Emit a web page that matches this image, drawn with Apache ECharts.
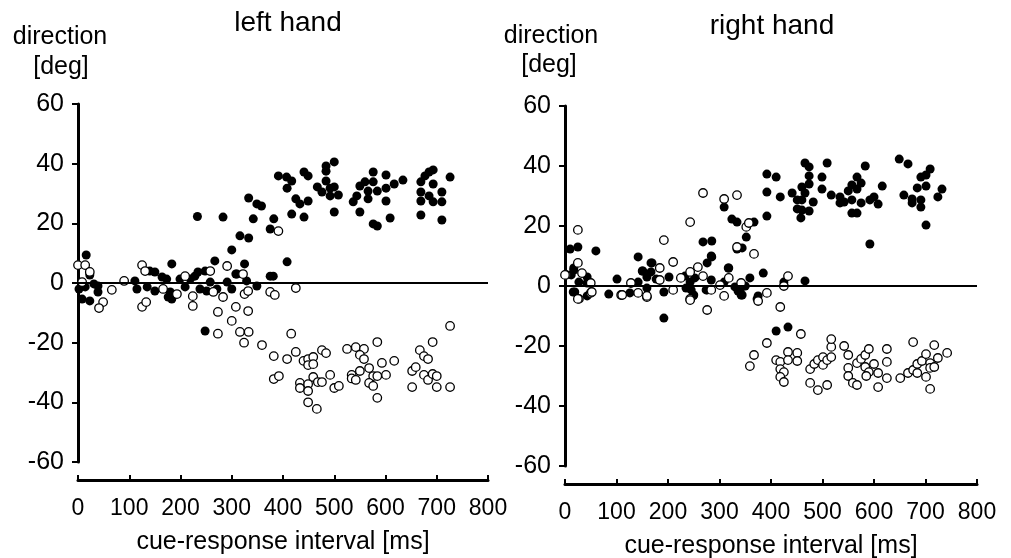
<!DOCTYPE html>
<html>
<head>
<meta charset="utf-8">
<script src="https://cdn.jsdelivr.net/npm/echarts@6/dist/echarts.min.js"></script>
<style>
  html, body { margin: 0; padding: 0; background: #fff; }
  #chart { width: 1011px; height: 558px; }
</style>
</head>
<body>
<div id="chart"></div>
<script>
// panel titles and axis texts
var panelTitles = ['left hand', 'right hand'];
var xName = 'cue-response interval [ms]';
var yName = ['direction', '[deg]'];

// left hand, filled circles [ms, deg]
var leftFilled = [
  [16,9.4],[23,2.7],[2,-2],[8,-5.4],[23,-6],[14,-1.3],[39,-1],[39,-3],[31,-0.3],
  [111,0.7],[115,-2],[135,-1.3],[140,4],[150,3.7],[150,-2.7],[164,2],[173,1.3],[176,-4.7],
  [183,-5.4],[183,6.4],[180,-3],[199,1.3],[209,-1.3],[219,1.3],[228,2.3],[234,3.7],[238,-2],
  [248,4],[251,-2.7],[258,0.3],[271,-2],[291,0.3],[300,-2],[310,3],[329,0.7],[349,-1],
  [375,2.3],[381,2.3],[248,-16.1],
  [233,22.3],[283,22.1],[267,7.4],[300,11.1],[316,15.8],[333,15.1],[325,6.4],[308,3],
  [333,28.5],[342,21.5],[349,26.5],[358,25.8],[375,18.1],[382,21.5],[408,7.1],
  [391,35.9],[407,35.5],[408,31.8],[417,34.2],[417,23.1],[425,28.2],[433,26.5],
  [441,37.2],[449,35.9],[449,27.5],[441,22.1],[467,32.2],[476,30.5],[484,39.2],[484,37.5],
  [500,40.6],[484,34.2],[492,31.8],[500,32.2],[492,29.2],[508,29.5],[500,23.8],
  [537,27.2],[544,29.2],[550,23.8],[550,32.5],[560,33.9],[566,30.8],[566,28.2],
  [576,37.2],[576,33.9],[584,30.8],[576,19.8],[584,19.1],[601,36.2],[601,31.8],[601,27.5],
  [617,33.2],[609,21.8],[634,34.5],[669,33.9],[669,30.5],[669,27.5],[669,22.8],
  [677,35.9],[685,37.2],[693,37.9],[685,29.2],[693,27.2],[693,33.2],[710,30.5],[710,27.2],
  [710,21.1],[726,35.5]
];

// left hand, open circles [ms, deg]
var leftOpen = [
  [0,6],[14,6],[23,3.7],[8,0.3],[49,-6.4],[41,-8.4],[66,-2.3],[90,0.7],[125,6],[131,4],
  [125,-8],[133,-6.4],[166,-2],[193,-3.7],[209,2.3],[224,-4.4],[224,-7.7],[258,4],[264,-3],
  [273,-9.7],[283,-4.7],[291,5.7],[300,-12.7],[308,-8],[322,3],[325,-3.7],[332,-2.7],
  [332,-9.4],[316,-16.4],[333,-16.4],[324,-20],[273,-17],[359,-20.8],[375,-3],[384,-4],
  [391,17.4],[425,-1.7],
  [416,-17],[382,-24.5],[425,-23.1],[408,-25.5],[382,-32.2],[392,-31.2],[440,-26.1],
  [449,-25.5],[459,-24.8],[449,-27.5],[459,-27.2],[476,-22.5],[484,-23.5],[433,-33.5],
  [433,-35.2],[449,-33.9],[449,-36.2],[459,-31.5],[468,-33.2],[476,-33.2],[449,-40],
  [466,-42.2],[492,-30.8],[500,-35.2],[509,-34.5],[525,-22.1],[542,-21.5],[558,-22.1],
  [550,-24.1],[558,-25.5],[550,-29.5],[534,-30.8],[534,-32],[542,-32.5],[568,-28.5],
  [576,-31.2],[584,-31.2],[568,-33.5],[576,-34.5],[584,-19.8],[593,-26.8],[601,-30.8],
  [584,-38.5],[617,-26.1],[652,-29.5],[659,-28.2],[667,-22.5],[675,-24.5],[683,-25.5],
  [652,-34.9],[675,-30.8],[683,-32.5],[692,-30.5],[700,-31.2],[692,-19.8],[700,-34.9],
  [726,-34.9],[726,-14.4]
];

// right hand, filled circles [ms, deg]
var rightFilled = [
  [10,12.3],[25,13],[60,11.7],[17,6],[17,5.3],[12,3.7],[43,3],[43,1],[27,1.3],[19,-2],
  [43,-3.3],[16,-2],[85,-2.7],[101,2.3],[126,-2.3],[142,9.7],[150,5],[169,7.7],[142,1.3],
  [151,5],[159,3],[159,-0.7],[167,7.7],[167,4.7],[177,2.3],[192,-2],[192,-10.7],[202,3],
  [233,3.3],[243,1.3],[245,-1.3],[250,-3],[252,2.7],[274,-1.3],[284,2],[284,10],[309,1.3],
  [318,6],[330,-0.3],[340,-1.3],[342,-3],[350,0],[359,2.7],[373,-4.3],[235,-0.7],[249,-3.3],
  [276,-1.3],[336,-1.7],[344,-3],[375,-3.3],[410,-15],[433,-13.7],[425,1.3],[466,1.7],
  [268,14.7],[285,15],[285,9.7],[276,7.7],[309,26.3],[317,6],[324,22.3],[334,21.3],
  [334,12.3],[344,12.7],[352,16.3],[367,21.3],[385,4.3],[392,37.3],[410,36.3],[392,31.3],
  [392,23.3],[418,29.7],[441,31],[451,28.7],[451,25.7],[460,33],[460,28.7],[460,25.3],
  [458,22.7],[466,41],[474,39.7],[474,36.7],[474,34],[466,31],[482,28],[474,25],
  [499,36.3],[499,32.3],[509,41],[517,30.3],[534,29.7],[534,27.7],[542,28],[550,31.7],
  [557,33.7],[567,36.3],[567,32.3],[575,34.3],[557,28.7],[575,27.7],[557,24.3],[567,24.3],
  [583,40],[592,28.7],[600,29.7],[608,27.3],[616,33.3],[592,14],[649,42.3],[666,40.7],
  [658,30.3],[674,29],[674,27.7],[684,32.7],[691,36.3],[701,37],[709,39],[701,33.3],
  [691,26.3],[691,28.7],[701,20.3],[724,29.7],[732,32.3]
];

// right hand, open circles [ms, deg]
var rightOpen = [
  [25,18.7],[25,7.7],[33,4.3],[2,3.7],[0,3.7],[50,1],[50,-2.3],[27,-4.3],[25,-4.3],[52,-2],
  [109,-3],[111,-3],[128,1],[142,-2.3],[159,-3.7],[159,-3.3],[184,6],[184,2],[192,15.3],
  [210,-1.3],[210,8],[225,2.7],[243,4.7],[243,-4.3],[243,-4.7],[243,21.3],[258,6.3],
  [268,3.3],[268,31],[284,-1.3],[276,-8],[301,0.3],[309,-3.3],[309,29],[318,2.7],[342,1],
  [334,13],[334,30.3],[352,19.7],[357,21],[367,10.7],[375,-5],[392,-2.3],[418,-7],[425,0],
  [433,3.3],
  [458,-16],[392,-19],[367,-23],[359,-26.7],[410,-24.7],[418,-25.3],[433,-22],[451,-22.3],
  [433,-24.7],[451,-25],[418,-27.7],[425,-28.7],[418,-30.3],[425,-32],[476,-27.7],
  [484,-26],[491,-24.7],[501,-23.7],[501,-26.3],[509,-24.7],[517,-23.7],[517,-20.3],
  [517,-17.7],[476,-32.3],[491,-34.7],[509,-33],[542,-20],[550,-23],[550,-27.3],[550,-30],
  [559,-32.3],[567,-33],[567,-25.7],[575,-24.3],[583,-23],[583,-27],[590,-21],[590,-28.7],
  [585,-30],[600,-26],[608,-29],[608,-33.7],[625,-21],[625,-25.3],[625,-30.7],[651,-30.7],
  [666,-29],[676,-28],[676,-18.7],[684,-29],[684,-26],[693,-25],[701,-22.7],[701,-30.3],
  [709,-25.7],[709,-27.3],[709,-34.3],[717,-19.7],[717,-27],[724,-24],[742,-22.3]
];

var xTicks = {min: 0, max: 800, interval: 100};
var yTicks = {min: -60, max: 60, interval: 20};

var FONT = 'Liberation Sans, Arial, sans-serif';
var chart = echarts.init(document.getElementById('chart'));

function xAxisFor(i) {
  return {
    gridIndex: i, type: 'value', min: xTicks.min, max: xTicks.max, interval: xTicks.interval,
    offset: 18,
    axisLine: {onZero: false, lineStyle: {color: '#000', width: 3}},
    axisTick: {inside: true, length: 5, lineStyle: {color: '#000', width: 2}},
    axisLabel: {color: '#000', fontSize: 23, fontFamily: FONT, margin: 17, showMinLabel: true, showMaxLabel: true},
    splitLine: {show: false},
    name: xName, nameLocation: 'middle', nameGap: 50,
    nameTextStyle: {color: '#000', fontSize: 25, fontFamily: FONT}
  };
}
function yAxisFor(i) {
  return {
    gridIndex: i, type: 'value', min: yTicks.min, max: yTicks.max, interval: yTicks.interval,
    axisLine: {onZero: false, lineStyle: {color: '#000', width: 3}},
    axisTick: {inside: false, length: 6, lineStyle: {color: '#000', width: 2}},
    axisLabel: {color: '#000', fontSize: 25, fontFamily: FONT, margin: 14},
    splitLine: {show: false}
  };
}
function filledSeries(i, data) {
  return {
    type: 'scatter', xAxisIndex: i, yAxisIndex: i, data: data, symbol: 'circle', symbolSize: 9,
    itemStyle: {color: '#000', opacity: 1},
    markLine: {
      silent: true, symbol: 'none', label: {show: false},
      lineStyle: {color: '#000', width: 2, type: 'solid'},
      data: [{yAxis: 0}]
    }
  };
}
function openSeries(i, data) {
  return {
    type: 'scatter', xAxisIndex: i, yAxisIndex: i, data: data, symbol: 'circle', symbolSize: 8.5,
    itemStyle: {color: '#fff', borderColor: '#000', borderWidth: 1.3, opacity: 1}
  };
}

var textStyle = {fill: '#000', fontFamily: FONT, textAlign: 'center', textVerticalAlign: 'middle'};
function label(x, y, t, size) {
  return {type: 'text', x: x, y: y, style: Object.assign({text: t, fontSize: size}, textStyle)};
}

chart.setOption({
  animation: false,
  backgroundColor: '#fff',
  grid: [
    {left: 78, top: 104, width: 410, height: 358, outerBoundsMode: 'none'},
    {left: 565, top: 106, width: 412, height: 360, outerBoundsMode: 'none'}
  ],
  xAxis: [xAxisFor(0), xAxisFor(1)],
  yAxis: [yAxisFor(0), yAxisFor(1)],
  series: [
    filledSeries(0, leftFilled), openSeries(0, leftOpen),
    filledSeries(1, rightFilled), openSeries(1, rightOpen)
  ],
  graphic: [
    label(288, 23, panelTitles[0], 28),
    label(772, 26, panelTitles[1], 28),
    label(60, 37, yName[0], 25),
    label(61, 67, yName[1], 25),
    label(551, 36, yName[0], 25),
    label(549, 65, yName[1], 25)
  ]
});
</script>
</body>
</html>
